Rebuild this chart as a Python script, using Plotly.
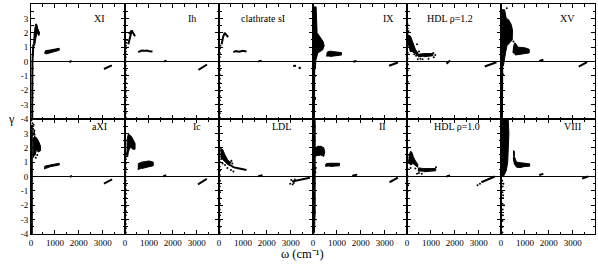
import plotly.graph_objects as go
from plotly.subplots import make_subplots

N = None
FONT = "Liberation Serif, Times New Roman, serif"

# panel labels, row by row
panel_names = ["XI", "Ih", "clathrate sI", "IX", "HDL ρ=1.2", "XV",
               "aXI", "Ic", "LDL", "II", "HDL ρ=1.0", "VIII"]
label_w = [2875, 2790, 1830, 3170, 1790, 2790,
           2875, 3000, 2625, 2920, 2080, 3000]
label_g = [3.0, 3.0, 3.0, 3.0, 3.0, 3.0,
           3.45, 3.45, 3.45, 3.45, 3.45, 3.45]

x_ticks = [0, 1000, 2000, 3000]
y_ticks_top = [-4, -3, -2, -1, 0, 1, 2, 3, 4]
y_ticks_bottom = [-4, -3, -2, -1, 0, 1, 2, 3]

# ---------------- data: omega (cm^-1), gamma ----------------
# *_pw/*_pg : outlines of dense clouds of modes (filled)
# *_lw/*_lg : narrow bands of modes
# *_dw/*_dg : isolated modes

# XI
XI_pw = [110, 130, 190, 240, 280, 360, 330, 250, 200, 150, N,
         570, 600, 800, 1000, 1180, 1180, 1000, 800, 620]
XI_pg = [1.2, 1.9, 2.6, 2.6, 2.3, 2.0, 1.8, 2.0, 1.6, 1.1, N,
         0.55, 0.75, 0.8, 0.85, 0.92, 0.78, 0.7, 0.62, 0.52]
XI_lw = [50, 55, 60, 100, N, 1600, 1700, N, 3050, 3200, 3380]
XI_lg = [-4, -2, 0, 1.2, N, -0.05, 0.05, N, -0.52, -0.4, -0.27]
XI_dw = [20, 70, 90]
XI_dg = [-3.5, -2.2, 0.9]

# Ih
Ih_pw = []
Ih_pg = []
Ih_lw = [140, 200, 280, 350, 420, N, 170, 280, N, 555, 695, 800, 900, 1020, 1150, N,
         1640, 1740, N, 3070, 3250, 3430]
Ih_lg = [1.2, 1.7, 2.15, 1.95, 1.75, N, 1.9, 2.15, N, 0.65, 0.76, 0.74, 0.77, 0.72, 0.69, N,
         0.0, 0.06, N, -0.58, -0.4, -0.21]
Ih_dw = [30, 35, 30, 35, 30, 35, 30, 35, 30, 35, 30, 35, 30, 35, 30, 35, 30, 35, 40, 60, 90]
Ih_dg = [-3.9, -3.6, -3.3, -3.0, -2.7, -2.4, -2.1, -1.8, -1.5, -1.2, -0.9, -0.6, -0.3, 0.0,
         0.3, 0.5, 0.7, 0.9, 1.1, 1.3, 1.5]

# clathrate sI
cl_pw = []
cl_pg = []
cl_lw = [110, 170, 240, 310, 380, N, 600, 700, 850, 1000, 1150, N, 1640, 1780, N,
         3100, 3220, N, 3330, 3420]
cl_lg = [1.2, 1.7, 2.0, 1.85, 1.7, N, 0.65, 0.72, 0.68, 0.75, 0.7, N, 0.0, 0.06, N,
         -0.32, -0.3, N, -0.42, -0.48]
cl_dw = [30, 35, 30, 35, 30, 35, 30, 35, 30, 35, 30, 35, 30, 35, 30, 35, 40, 60]
cl_dg = [-3.9, -3.6, -3.3, -3.0, -2.7, -2.4, -2.1, -1.8, -1.5, -1.2, -0.9, -0.6, -0.3, 0.0,
         0.3, 0.6, 0.9, 1.1]

# IX
IX_pw = [0, 130, 170, 300, 420, 470, 400, 200, 120, 100, 0, N,
         570, 590, 700, 850, 1000, 1190, 1190, 1000, 850, 700]
IX_pg = [3.8, 3.8, 2.0, 1.7, 1.4, 1.1, 0.8, 0.6, 0.1, -0.5, -0.5, N,
         0.35, 0.65, 0.72, 0.68, 0.66, 0.62, 0.45, 0.4, 0.37, 0.35]
IX_lw = [50, 45, 40, N, 1680, 1820, N, 3180, 3360, 3550]
IX_lg = [-0.5, -2.0, -4.0, N, -0.02, 0.03, N, -0.3, -0.18, -0.07]
IX_dw = [80, 20, 90]
IX_dg = [-1.0, -1.6, -2.6]

# HDL rho=1.2
H12_pw = [50, 60, 150, 220, 280, 350, 470, 470, 300, 200, 120, N,
          470, 480, 700, 900, 1080, 1080, 900, 700]
H12_pg = [1.1, 1.85, 1.75, 1.45, 1.1, 0.85, 0.55, 0.4, 0.6, 0.7, 0.7, N,
          0.3, 0.5, 0.55, 0.55, 0.55, 0.4, 0.35, 0.33]
H12_lw = [1650, 1800, N, 3250, 3500, 3740]
H12_lg = [-0.15, 0.07, N, -0.35, -0.2, -0.05]
H12_dw = [20, 30, 40, 25, 30, 20, 40, 30, 20, 35, 450, 500, 560, 1100, 1120, 380, 420, 300, 650,
          900, 1180, 60]
H12_dg = [2.6, 2.3, 2.0, 1.2, 0.6, 0.2, -0.2, -0.6, -1.0, -1.4, 0.15, 0.7, 0.2, 0.6, 0.3, 0.4,
          1.2, 0.5, 0.15, 0.2, 0.45, 2.1]

# XV
XV_pw = [0, 150, 220, 320, 420, 480, 470, 350, 250, 200, 150, 100, 0, N,
         500, 530, 580, 640, 700, 850, 1000, 1180, 1180, 1000, 800, 600]
XV_pg = [3.6, 3.6, 3.0, 2.9, 2.6, 2.2, 1.5, 1.3, 1.1, 0.7, 0.2, -0.3, -0.3, N,
         0.6, 1.1, 1.3, 1.2, 1.0, 1.0, 0.95, 0.85, 0.6, 0.55, 0.5, 0.45]
XV_lw = [50, 45, 40, N, 1600, 1770, N, 3250, 3420, 3600]
XV_lg = [-0.3, -2.0, -4.0, N, 0.03, 0.12, N, -0.35, -0.2, -0.05]
XV_dw = [240, 90, 520]
XV_dg = [3.7, -0.9, 1.4]

# aXI
aXI_pw = [100, 100, 160, 250, 330, 400, 400, 300, 230, 180, N,
          560, 580, 800, 1000, 1180, 1180, 1000, 800, 600]
aXI_pg = [1.3, 2.7, 2.8, 2.65, 2.4, 2.1, 1.8, 1.7, 1.9, 1.5, N,
          0.5, 0.72, 0.8, 0.86, 0.92, 0.8, 0.75, 0.68, 0.55]
aXI_lw = [35, 35, 35, N, 1620, 1720, N, 3050, 3220, 3390]
aXI_lg = [-4, 0, 3.6, N, -0.03, 0.05, N, -0.5, -0.35, -0.2]
aXI_dw = [60, 90, 120, 80, 140, 110, 20, 70, 130, 150, 200, 260]
aXI_dg = [3.7, 3.3, 3.0, 2.9, 3.2, 3.6, 3.9, 3.5, 3.1, 2.9, 1.3, 1.5]

# Ic
Ic_pw = [80, 90, 140, 200, 260, 330, 420, 420, 330, 260, 200, 140, 110, N,
         550, 560, 700, 850, 1000, 1180, 1180, 1000, 850, 700]
Ic_pg = [1.4, 2.6, 2.95, 2.9, 2.8, 2.6, 2.3, 1.9, 1.9, 2.0, 2.0, 1.7, 1.35, N,
         0.45, 0.9, 1.0, 1.05, 1.08, 1.0, 0.75, 0.68, 0.6, 0.55]
Ic_lw = [1600, 1720, N, 3050, 3250, 3420]
Ic_lg = [0.0, 0.1, N, -0.55, -0.35, -0.17]
Ic_dw = [30, 35, 30, 35, 30, 35, 30, 35, 30, 35, 30, 35, 30, 35, 30, 35, 30, 35, 45, 60]
Ic_dg = [-3.9, -3.6, -3.3, -3.0, -2.7, -2.4, -2.1, -1.8, -1.5, -1.2, -0.9, -0.6, -0.3, 0.0,
         0.3, 0.6, 0.9, 1.2, 1.4, 1.6]

# LDL
LDL_pw = [60, 150, 250, 350, 460, 460, 350, 250, 150, 80]
LDL_pg = [1.95, 1.9, 1.5, 1.2, 1.0, 0.75, 0.85, 1.05, 1.2, 1.2]
LDL_lw = [470, 600, 800, 1000, 1150, N, 1640, 1820, N, 3050, 3300, 3500, 3700, 3800]
LDL_lg = [0.8, 0.65, 0.58, 0.5, 0.45, N, 0.02, 0.08, N, -0.35, -0.27, -0.2, -0.13, -0.08]
LDL_dw = [30, 40, 30, 40, 30, 40, 30, 40, 30, 40, 30, 40, 30, 40, 30, 40, 30, 40, 50,
          480, 500, 520, 560, 600, 150, 250, 350, 2980, 3020, 3080, 3130, 3170]
LDL_dg = [-3.9, -3.5, -3.1, -2.7, -2.3, -1.9, -1.5, -1.1, -0.7, -0.3, 0.1, 0.4, 0.7, 1.0, 1.2,
          1.4, 1.6, 1.8, 2.0, 1.0, 0.45, 1.1, 0.9, 0.35, 0.9, 0.8, 0.6, -0.5, -0.25, -0.55,
          -0.45, -0.2]

# II
II_pw = [0, 90, 90, 60, 0, N, 80, 100, 200, 330, 450, 490, 450, 330, 200, N,
         530, 540, 700, 900, 1110, 1110, 900, 700]
II_pg = [3.9, 3.9, -2.5, -3.9, -3.9, N, 1.35, 2.0, 2.1, 2.1, 2.0, 1.7, 1.4, 1.5, 1.45, N,
         0.68, 0.88, 0.92, 0.93, 0.92, 0.75, 0.72, 0.7]
II_lw = [1640, 1850, N, 3200, 3380, 3550]
II_lg = [0.05, 0.13, N, -0.4, -0.25, -0.08]
II_dw = [120, 100]
II_dg = [0.6, 0.3]

# HDL rho=1.0
H10_pw = [60, 100, 150, 200, 260, 330, 450, 450, 330, 250, 150, N,
          470, 480, 700, 900, 1200, 1200, 900, 700]
H10_pg = [0.9, 1.55, 1.75, 1.7, 1.4, 1.15, 0.85, 0.65, 0.8, 0.9, 0.8, N,
          0.35, 0.6, 0.55, 0.55, 0.55, 0.4, 0.35, 0.33]
H10_lw = [1650, 1800, N, 3110, 3400, 3670]
H10_lg = [0.0, 0.07, N, -0.4, -0.2, 0.0]
H10_dw = [40, 30, 20, 30, 40, 20, 50, 30, 420, 500, 620, 1210, 2950, 3050, 150, 350]
H10_dg = [2.0, 1.5, 1.0, 0.5, 0.0, -0.3, -0.6, -1.0, 0.2, 0.25, 0.2, 0.65, -0.6, -0.5, 0.6, 0.55]

# VIII
VIII_pw = [0, 300, 330, 300, 280, 220, 100, 0, N,
           500, 560, 560, 620, 700, 850, 1000, 1200, 1200, 1000, 800, 650, 560, 510]
VIII_pg = [4.0, 4.0, 3.0, 2.0, 1.0, 0.4, 0.0, 0.0, N,
           1.8, 1.75, 1.4, 1.1, 0.98, 0.95, 0.92, 0.88, 0.72, 0.7, 0.62, 0.65, 0.85, 1.3]
VIII_lw = [1600, 1770, N, 3390, 3640]
VIII_lg = [0.1, 0.18, N, -0.15, 0.0]
VIII_dw = [50, 70, 60, 80, 60, 70, 80, 60, 70, 60, 100, 90, 120]
VIII_dg = [-0.3, -0.7, -1.1, -1.5, -1.9, -2.3, -2.7, -3.1, -3.5, -3.9, -0.5, -1.3, -2.0]

panels = [(XI_pw, XI_pg, XI_lw, XI_lg, XI_dw, XI_dg),
          (Ih_pw, Ih_pg, Ih_lw, Ih_lg, Ih_dw, Ih_dg),
          (cl_pw, cl_pg, cl_lw, cl_lg, cl_dw, cl_dg),
          (IX_pw, IX_pg, IX_lw, IX_lg, IX_dw, IX_dg),
          (H12_pw, H12_pg, H12_lw, H12_lg, H12_dw, H12_dg),
          (XV_pw, XV_pg, XV_lw, XV_lg, XV_dw, XV_dg),
          (aXI_pw, aXI_pg, aXI_lw, aXI_lg, aXI_dw, aXI_dg),
          (Ic_pw, Ic_pg, Ic_lw, Ic_lg, Ic_dw, Ic_dg),
          (LDL_pw, LDL_pg, LDL_lw, LDL_lg, LDL_dw, LDL_dg),
          (II_pw, II_pg, II_lw, II_lg, II_dw, II_dg),
          (H10_pw, H10_pg, H10_lw, H10_lg, H10_dw, H10_dg),
          (VIII_pw, VIII_pg, VIII_lw, VIII_lg, VIII_dw, VIII_dg)]

fig = make_subplots(rows=2, cols=6, horizontal_spacing=0, vertical_spacing=0)

for i, (pw, pg, lw, lg, dw, dg) in enumerate(panels):
    r = i // 6 + 1
    c = i % 6 + 1
    if pw:
        fig.add_trace(go.Scatter(x=pw, y=pg, mode="lines", fill="toself", fillcolor="black",
                                 line=dict(color="black", width=1), showlegend=False,
                                 hoverinfo="skip"), row=r, col=c)
    fig.add_trace(go.Scatter(x=lw, y=lg, mode="lines", connectgaps=False,
                             line=dict(color="black", width=2), showlegend=False,
                             hoverinfo="skip"), row=r, col=c)
    fig.add_trace(go.Scatter(x=dw, y=dg, mode="markers",
                             marker=dict(color="black", size=2), showlegend=False,
                             hoverinfo="skip"), row=r, col=c)

for i in range(12):
    r = i // 6 + 1
    c = i % 6 + 1
    fig.update_xaxes(range=[0, 3930], tickvals=x_ticks, ticktext=[str(t) for t in x_ticks],
                     showticklabels=(r == 2), ticks="inside", ticklen=4, tickcolor="black",
                     minor=dict(dtick=500, tick0=0, ticks="inside", ticklen=2.5, tickcolor="black"),
                     showline=True, linecolor="black", linewidth=1, mirror="ticks",
                     showgrid=False, zeroline=False, automargin=False,
                     tickfont=dict(family=FONT, size=9, color="black"), row=r, col=c)
    yt = y_ticks_top if r == 1 else y_ticks_bottom
    fig.update_yaxes(range=[-4, 4], tickvals=yt, ticktext=[str(t) for t in yt],
                     showticklabels=(c == 1), ticks="inside", ticklen=4, tickcolor="black",
                     minor=dict(dtick=0.5, tick0=0, ticks="inside", ticklen=2.5, tickcolor="black"),
                     showline=True, linecolor="black", linewidth=1, mirror="ticks",
                     showgrid=False, zeroline=True, zerolinecolor="black", zerolinewidth=1,
                     automargin=False,
                     tickfont=dict(family=FONT, size=9, color="black"), row=r, col=c)
    xr = "x" if i == 0 else "x%d" % (i + 1)
    yr = "y" if i == 0 else "y%d" % (i + 1)
    fig.add_annotation(x=label_w[i], y=label_g[i], xref=xr, yref=yr, text=panel_names[i],
                       showarrow=False, font=dict(family=FONT, size=10, color="black"))

fig.add_annotation(x=-0.044, y=0.5, xref="paper", yref="paper", text="γ", showarrow=False,
                   font=dict(family=FONT, size=12, color="black"))
fig.add_annotation(x=0.4805, y=-0.128, xref="paper", yref="paper",
                   text="ω (cm⁻¹)", showarrow=False,
                   font=dict(family=FONT, size=12.5, color="black"))

fig.update_layout(width=598, height=264, margin=dict(l=31, r=3, t=4, b=30),
                  paper_bgcolor="white", plot_bgcolor="white", template="none")

fig.write_html("out.html", config={"displayModeBar": False},
               post_script="document.body.style.margin='0';document.body.style.overflow='hidden';")
